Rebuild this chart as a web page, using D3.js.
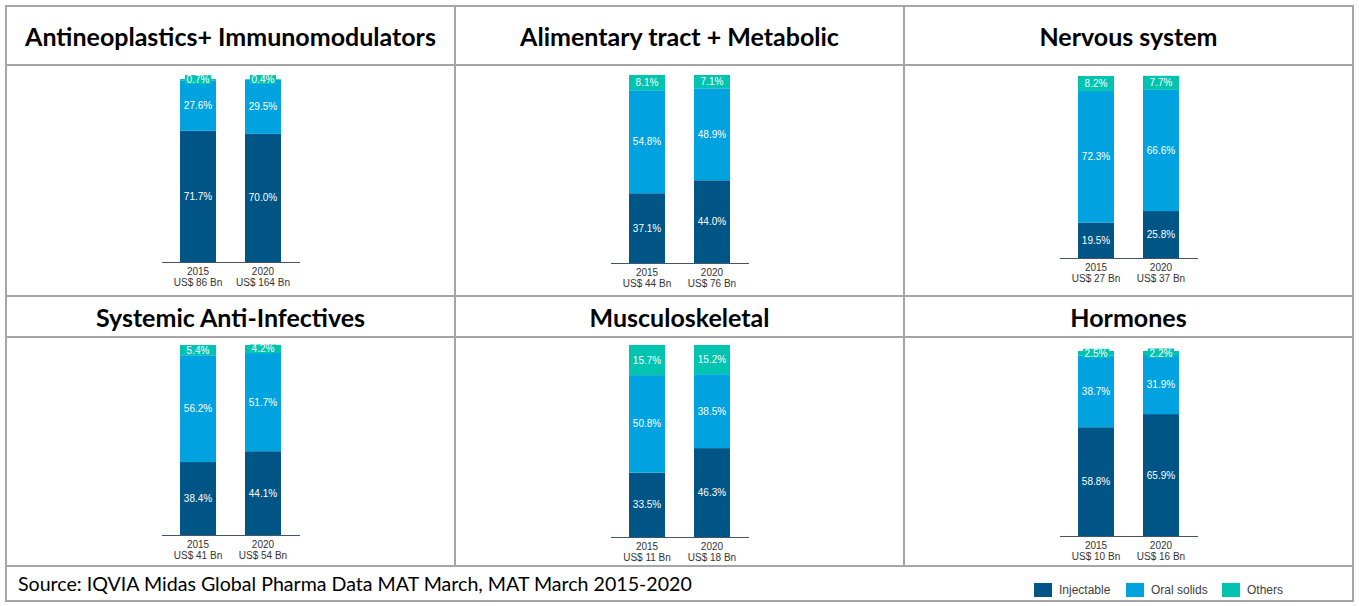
<!DOCTYPE html>
<html><head><meta charset="utf-8">
<script src="https://cdn.jsdelivr.net/npm/d3@7"></script>
<style>body{margin:0;background:#fff}svg{display:block}</style>
</head><body>
<svg id="chart" width="1359" height="606"></svg>
<script>
// ---------- DATA ----------
const panelTitles = ["Antineoplastics+ Immunomodulators", "Alimentary tract + Metabolic", "Nervous system",
                     "Systemic Anti-Infectives", "Musculoskeletal", "Hormones"];
const years = ["2015", "2020"];
const seriesNames = ["Injectable", "Oral solids", "Others"];
const injectable = [[71.7, 70.0], [37.1, 44.0], [19.5, 25.8], [38.4, 44.1], [33.5, 46.3], [58.8, 65.9]];
const oralSolids = [[27.6, 29.5], [54.8, 48.9], [72.3, 66.6], [56.2, 51.7], [50.8, 38.5], [38.7, 31.9]];
const others     = [[0.7, 0.4], [8.1, 7.1], [8.2, 7.7], [5.4, 4.2], [15.7, 15.2], [2.5, 2.2]];
const marketBn   = [[86, 164], [44, 76], [27, 37], [41, 54], [11, 18], [10, 16]];
const sourceText = "Source: IQVIA Midas Global Pharma Data MAT March, MAT March 2015-2020";

// ---------- LAYOUT / STYLE ----------
const colors = ["#005587", "#00A3E0", "#00C4B0"];
const colX = [6, 455, 904, 1353];
const rowY = {t1: 6, c1: 65, t2: 296, c2: 337, s: 566, b: 601};
const plotTop  = [79, 75, 76, 345, 345, 351];
const plotBase = [262, 263, 258, 535, 537, 536];

const svg = d3.select("#chart");
const gridColor = "#a6a6a6";

// grid
const grid = svg.append("g").attr("stroke", gridColor).attr("stroke-width", 2).attr("fill", "none");
grid.append("rect").attr("x", colX[0]).attr("y", rowY.t1).attr("width", colX[3] - colX[0]).attr("height", rowY.b - rowY.t1);
[rowY.c1, rowY.t2, rowY.c2, rowY.s].forEach(y =>
  grid.append("line").attr("x1", colX[0]).attr("x2", colX[3]).attr("y1", y).attr("y2", y));
[colX[1], colX[2]].forEach(x =>
  grid.append("line").attr("x1", x).attr("x2", x).attr("y1", rowY.t1).attr("y2", rowY.s));

// stacked data
const stack = d3.stack().keys([0, 1, 2]);

panelTitles.forEach((title, p) => {
  const col = p % 3, row = Math.floor(p / 3);
  const cx = (colX[col] + colX[col + 1]) / 2;
  const titleY = row === 0 ? (rowY.t1 + rowY.c1) / 2 : (rowY.t2 + rowY.c2) / 2;

  svg.append("text").attr("x", cx).attr("y", titleY + 1.5).attr("dy", "0.35em")
    .attr("text-anchor", "middle").attr("font-family", "Lato, 'Open Sans', sans-serif")
    .attr("font-weight", 700).attr("font-size", 25).attr("fill", "#000").text(title);

  const rows = years.map((yr, i) => ({0: injectable[p][i], 1: oralSolids[p][i], 2: others[p][i], year: yr, total: marketBn[p][i]}));
  const stacked = stack(rows);

  const x = d3.scaleBand().domain(years).range([cx - 69, cx + 69]).paddingInner(0.446).paddingOuter(0.285);
  const y = d3.scaleLinear().domain([0, 100]).range([plotBase[p], plotTop[p]]);

  const g = svg.append("g");
  stacked.forEach((layer, k) => {
    g.selectAll(null).data(layer).join("rect")
      .attr("x", d => x(d.data.year)).attr("width", x.bandwidth())
      .attr("y", d => y(d[1])).attr("height", d => y(d[0]) - y(d[1]))
      .attr("fill", colors[k]);
  });

  // axis
  const ax = g.append("g").attr("transform", `translate(0,${plotBase[p]})`)
    .call(d3.axisBottom(x).tickSize(0).tickSizeOuter(0).tickPadding(6));
  ax.select(".domain").attr("stroke", "#44546a").attr("stroke-width", 1.2);
  ax.selectAll(".tick text").each(function(yr, i) {
    const t = d3.select(this).text(null).attr("font-family", "'Liberation Sans', Arial, sans-serif")
      .attr("font-size", 10).attr("fill", "#333");
    t.append("tspan").attr("x", 0).attr("dy", "0.71em").text(yr);
    t.append("tspan").attr("x", 0).attr("dy", "1.1em").text(`US$ ${marketBn[p][i]} Bn`);
  });

  // labels
  stacked.forEach((layer, k) => {
    layer.forEach(d => {
      const vx = x(d.data.year) + x.bandwidth() / 2;
      const y0 = y(d[0]), y1 = y(d[1]);
      const vy = (y0 + y1) / 2;
      const txt = d.data[k].toFixed(1) + "%";
      if (y0 - y1 < 10) {
        g.append("rect").attr("x", vx - 13).attr("y", vy - 4.5).attr("width", 26).attr("height", 9)
          .attr("fill", colors[k]);
      }
      g.append("text").attr("x", vx).attr("y", vy).attr("dy", "0.35em").attr("text-anchor", "middle")
        .attr("font-family", "'Liberation Sans', Arial, sans-serif").attr("font-size", 10)
        .attr("fill", "#fff").text(txt);
    });
  });
});

// source
svg.append("text").attr("x", 18).attr("y", 584).attr("dy", "0.35em")
  .attr("font-family", "Lato, 'Open Sans', sans-serif").attr("font-size", 19.6).attr("fill", "#000").text(sourceText);

// legend
const lx = [1034, 1126, 1222];
seriesNames.forEach((s, i) => {
  svg.append("rect").attr("x", lx[i]).attr("y", 583).attr("width", 18).attr("height", 14).attr("fill", colors[i]);
  svg.append("text").attr("x", lx[i] + 25).attr("y", 590).attr("dy", "0.35em")
    .attr("font-family", "'Liberation Sans', Arial, sans-serif").attr("font-size", 12).attr("fill", "#404040").text(s);
});
</script>
</body></html>
